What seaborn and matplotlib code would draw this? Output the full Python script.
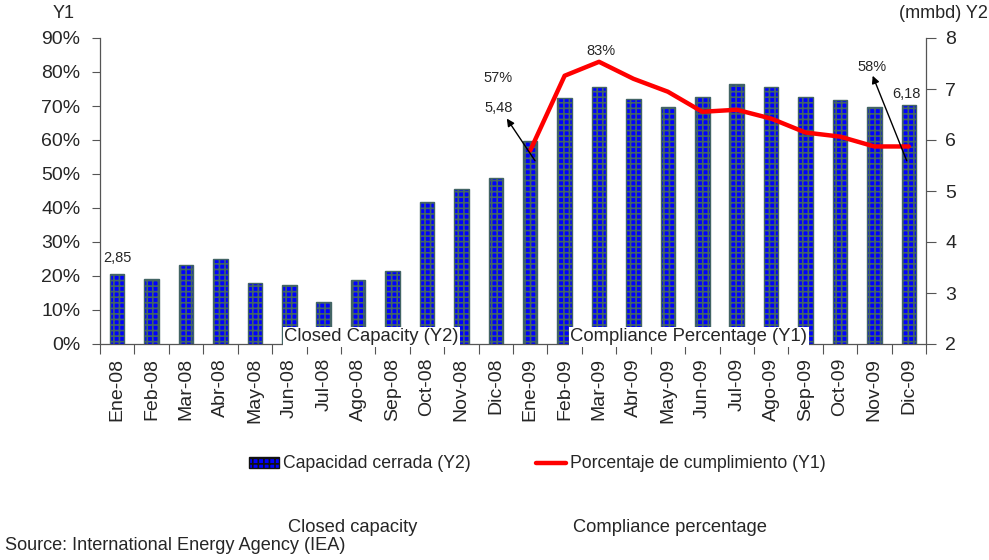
import numpy as np
import pandas as pd
import matplotlib
matplotlib.use("Agg")
import matplotlib.pyplot as plt
import seaborn as sns
from matplotlib.patches import Patch
from matplotlib.lines import Line2D
from matplotlib.ticker import FixedLocator, FuncFormatter

# ---------------- data ----------------
months = ["Ene-08", "Feb-08", "Mar-08", "Abr-08", "May-08", "Jun-08", "Jul-08",
          "Ago-08", "Sep-08", "Oct-08", "Nov-08", "Dic-08", "Ene-09", "Feb-09",
          "Mar-09", "Abr-09", "May-09", "Jun-09", "Jul-09", "Ago-09", "Sep-09",
          "Oct-09", "Nov-09", "Dic-09"]
closed_capacity = [3.37, 3.27, 3.54, 3.66, 3.19, 3.15, 2.82, 3.25, 3.43, 4.78,
                   5.03, 5.26, 5.99, 6.83, 7.04, 6.81, 6.65, 6.85, 7.10, 7.04,
                   6.85, 6.79, 6.65, 6.69]
line_months = ["Ene-09", "Feb-09", "Mar-09", "Abr-09", "May-09", "Jun-09",
               "Jul-09", "Ago-09", "Sep-09", "Oct-09", "Nov-09", "Dic-09"]
compliance = [0.569, 0.789, 0.830, 0.780, 0.742, 0.683, 0.689, 0.663, 0.622,
              0.610, 0.581, 0.581]
y1_ticks = [0.0, 0.1, 0.2, 0.3, 0.4, 0.5, 0.6, 0.7, 0.8, 0.9]
y2_ticks = [2, 3, 4, 5, 6, 7, 8]

bar_label = "Capacidad cerrada (Y2)"
line_label = "Porcentaje de cumplimiento (Y1)"

df_bars = pd.DataFrame({"Mes": months, "Capacidad": closed_capacity})
df_line = pd.DataFrame({"pos": [months.index(m) for m in line_months],
                        "pct": compliance})

# ---------------- style ----------------
sns.set_style("white")
plt.rcParams["font.family"] = ["Liberation Sans", "DejaVu Sans"]
plt.rcParams["hatch.color"] = "#436565"
plt.rcParams["hatch.linewidth"] = 1.2

fig = plt.figure(figsize=(9.89, 5.60), dpi=100)
ax = fig.add_axes([100 / 989, 1 - 344 / 560, 826 / 989, 306 / 560])
ax2 = ax.twinx()

# bars on Y2
hc = "#436565"
sns.barplot(data=df_bars, x="Mes", y="Capacidad", ax=ax2, color="#0000ff",
            saturation=1, width=0.42, linewidth=1.0, edgecolor=hc)
for p in ax2.patches:
    p.set_hatch("+++")
    if hasattr(p, "set_hatchcolor"):
        p.set_hatchcolor(hc)
        p.set_edgecolor("#111111")

# line on Y1
sns.lineplot(data=df_line, x="pos", y="pct", ax=ax, color="#ff0000",
             linewidth=3.2, legend=False)

ax.set_zorder(3)
ax2.set_zorder(1)
ax.patch.set_visible(False)

n = len(months)
ax.set_xlim(-0.5, n - 0.5)
ax.set_ylim(0, 0.9)
ax2.set_ylim(2, 8)

ax.xaxis.set_major_locator(FixedLocator(list(range(n))))
ax.set_xticklabels(months, rotation=90, fontsize=14)
ax.xaxis.set_minor_locator(FixedLocator([i + 0.5 for i in range(-1, n)]))
ax.tick_params(axis="x", which="major", length=0, pad=10)
ax.tick_params(axis="x", which="minor", length=7, width=0.8, direction="out",
               bottom=True, color="#555555")
ax.set_xlabel("")
ax.set_ylabel("")
ax2.set_ylabel("")
ax2.set_xlabel("")

ax.set_yticks(y1_ticks)
ax.yaxis.set_major_formatter(FuncFormatter(lambda v, p: f"{v*100:.0f}%"))
ax.tick_params(axis="y", which="major", left=True, length=6, width=0.8,
               direction="out", labelsize=14, color="#555555", pad=8)
ax2.set_yticks(y2_ticks)
ax2.tick_params(axis="y", which="major", right=True, length=7, width=0.8,
                direction="out", labelsize=14, color="#555555", pad=7)

for a in (ax, ax2):
    a.spines["top"].set_visible(False)
    for s in ("left", "right", "bottom"):
        a.spines[s].set_color("#555555")
        a.spines[s].set_linewidth(0.9)
ax.spines["right"].set_visible(False)
ax2.spines["left"].set_visible(False)
ax2.spines["bottom"].set_visible(False)

# in-plot boxed texts
box = dict(facecolor="white", edgecolor="none", pad=1.0)
ax.text(4.85, 0.021, "Closed Capacity (Y2)", ha="left", va="center",
        fontsize=13.3, bbox=box, zorder=10)
ax.text(13.17, 0.021, "Compliance Percentage (Y1)", ha="left", va="center",
        fontsize=13.3, bbox=box, zorder=10)

# annotations
fs_ann = 10.5
ax.text(0.0, 0.252, "2,85", ha="center", va="center", fontsize=fs_ann)
ax.text(11.07, 0.783, "57%", ha="center", va="center", fontsize=fs_ann)
ax.text(11.07, 0.695, "5,48", ha="center", va="center", fontsize=fs_ann)
ax.text(14.06, 0.862, "83%", ha="center", va="center", fontsize=fs_ann)
ax.text(21.92, 0.815, "58%", ha="center", va="center", fontsize=fs_ann)
ax.text(22.92, 0.736, "6,18", ha="center", va="center", fontsize=fs_ann)
arrow = dict(arrowstyle="-|>", color="black", lw=1.0, mutation_scale=11,
             shrinkA=0, shrinkB=0)
ax.annotate("", xy=(11.32, 0.663), xytext=(12.14, 0.539), arrowprops=arrow)
ax.annotate("", xy=(21.95, 0.789), xytext=(22.94, 0.539), arrowprops=arrow)

# axis titles
fig.text(64 / 989, 1 - 13 / 560, "Y1", ha="center", va="center", fontsize=13)
fig.text(988 / 989, 1 - 13 / 560, "(mmbd) Y2", ha="right", va="center",
         fontsize=13)

# legend
handles = [Patch(facecolor="#0000ff", edgecolor="#111111", hatch="+++",
                 linewidth=1.0),
           Line2D([0], [0], color="#ff0000", linewidth=3.2)]
fig.legend(handles, [bar_label, line_label], loc="center",
           bbox_to_anchor=(537 / 989, 1 - 464 / 560), ncol=2, frameon=False,
           fontsize=12.7, handlelength=1.7, handleheight=0.55,
           handletextpad=0.23, columnspacing=3.7)

# footer texts
fig.text(353 / 989, 1 - 528 / 560, "Closed capacity", ha="center",
         va="center", fontsize=13.2)
fig.text(670 / 989, 1 - 528 / 560, "Compliance percentage", ha="center",
         va="center", fontsize=13.2)
fig.text(5 / 989, 1 - 546 / 560, "Source: International Energy Agency (IEA)",
         ha="left", va="center", fontsize=13.1)

fig.savefig("out.png", dpi=100, facecolor="white")
